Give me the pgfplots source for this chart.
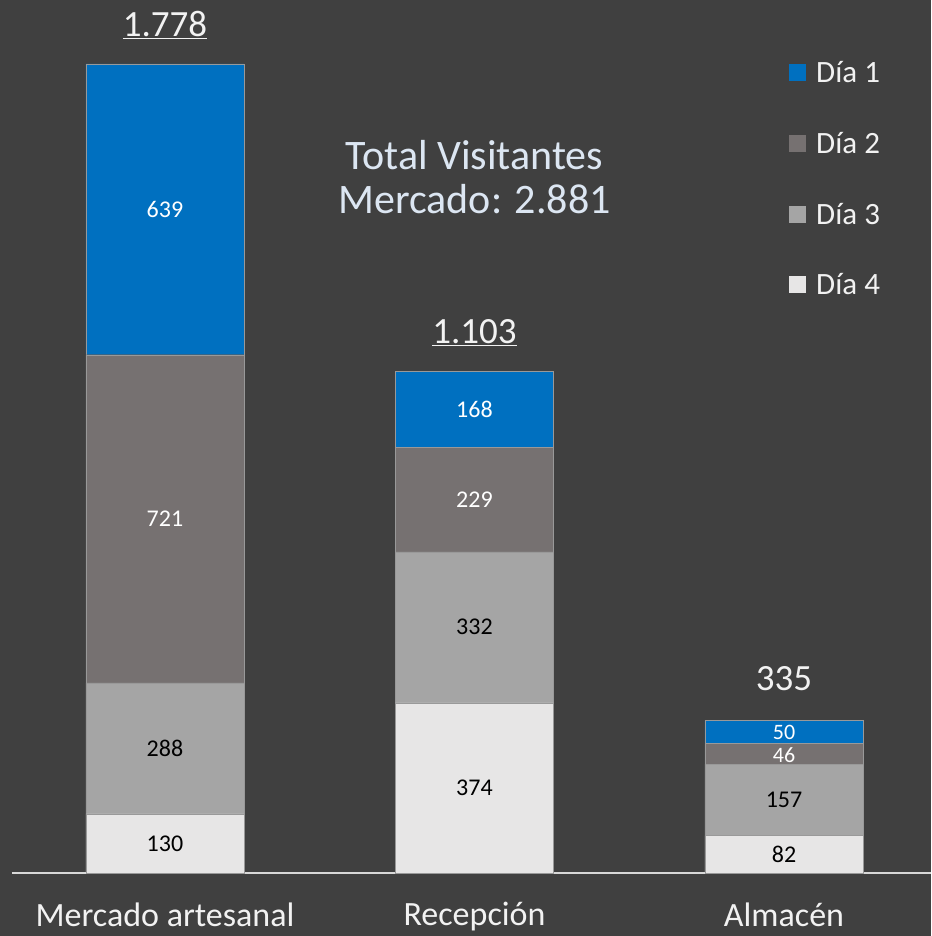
\documentclass[border=0pt]{standalone}
\usepackage{pgfplots}
\pgfplotsset{compat=1.18}
\usepackage{fontspec}
\setmainfont{Carlito}

\definecolor{bg}{HTML}{404040}
\definecolor{dia1}{HTML}{0070C0}
\definecolor{dia2}{HTML}{767171}
\definecolor{dia3}{HTML}{A5A5A5}
\definecolor{dia4}{HTML}{E7E6E6}
\definecolor{txt}{HTML}{F2F2F2}
\definecolor{ttl}{HTML}{DCE6F2}

\begin{document}
\begin{tikzpicture}
\fill[bg] (0pt,0pt) rectangle (931pt,936pt);
\path[use as bounding box] (0pt,0pt) rectangle (931pt,936pt);
\begin{axis}[
    at={(12pt,63pt)}, anchor=south west,
    scale only axis,
    width=919pt, height=873pt,
    xmin=-0.4943, xmax=2.475,
    ymin=0, ymax=1918.6,
    ybar stacked,
    bar width=158pt,
    axis x line*=bottom,
    hide y axis,
    x axis line style={-, draw=white!85!black, line width=2pt},
    xtick={0,1,2},
    xticklabels={Mercado artesanal, Recepción, Almacén},
    major tick length=0pt,
    xticklabel style={font=\fontsize{34}{40}\selectfont, text=txt, yshift=-26pt},
    clip=false,
    legend cell align=left,
    legend style={draw=none, fill=none, text=txt,
        font=\fontsize{31}{37}\selectfont,
        at={(rel axis cs:0.8455,0.932)}, anchor=north west,
        row sep=44pt, inner sep=0pt,
        /tikz/every odd column/.append style={column sep=8pt}},
    legend image code/.code={\path[#1,draw=none] (0pt,-8.5pt) rectangle (17pt,8.5pt);},
]
\addlegendimage{fill=dia1}
\addlegendentry{Día 1}
\addlegendimage{fill=dia2}
\addlegendentry{Día 2}
\addlegendimage{fill=dia3}
\addlegendentry{Día 3}
\addlegendimage{fill=dia4}
\addlegendentry{Día 4}

\addplot[fill=dia4, draw=black!40, forget plot] coordinates {(0,130) (1,374) (2,82)};
\addplot[fill=dia3, draw=black!40, forget plot] coordinates {(0,288) (1,332) (2,157)};
\addplot[fill=dia2, draw=black!40, forget plot] coordinates {(0,721) (1,229) (2,46)};
\addplot[fill=dia1, draw=black!40, forget plot] coordinates {(0,639) (1,168) (2,50)};

% label anchors (segment middles, bar tops)
\coordinate (a4) at (axis cs:0,65);
\coordinate (a3) at (axis cs:0,274);
\coordinate (a2) at (axis cs:0,778.5);
\coordinate (a1) at (axis cs:0,1458.5);
\coordinate (b4) at (axis cs:1,187);
\coordinate (b3) at (axis cs:1,540);
\coordinate (b2) at (axis cs:1,820.5);
\coordinate (b1) at (axis cs:1,1019);
\coordinate (c4) at (axis cs:2,41);
\coordinate (c3) at (axis cs:2,160.5);
\coordinate (c2) at (axis cs:2,258);
\coordinate (c1) at (axis cs:2,308);
\coordinate (ta) at (axis cs:0,1778);
\coordinate (tb) at (axis cs:1,1103);
\coordinate (tc) at (axis cs:2,335);
\coordinate (ttl) at (axis cs:1,1530);
\end{axis}

\begin{scope}[font=\fontsize{24}{28}\selectfont]
\node[text=black] at (a4) {130};
\node[text=black] at (a3) {288};
\node[text=white] at (a2) {721};
\node[text=white] at (a1) {639};
\node[text=black] at (b4) {374};
\node[text=black] at (b3) {332};
\node[text=white] at (b2) {229};
\node[text=white] at (b1) {168};
\node[text=black] at (c4) {82};
\node[text=black] at (c3) {157};
\node[text=white, font=\fontsize{22}{24}\selectfont, inner sep=0pt] at (c2) {46};
\node[text=white, font=\fontsize{22}{24}\selectfont, inner sep=0pt] at (c1) {50};
\end{scope}

\node[anchor=south, text=txt, font=\fontsize{37}{42}\selectfont, yshift=22pt] at (ta) {\underline{1.778}};
\node[anchor=south, text=txt, font=\fontsize{37}{42}\selectfont, yshift=22pt] at (tb) {\underline{1.103}};
\node[anchor=south, text=txt, font=\fontsize{37}{42}\selectfont, yshift=26pt] at (tc) {335};

\node[align=center, text=ttl, font=\fontsize{42}{44}\selectfont] at (ttl) {Total Visitantes\\Mercado: 2.881};
\end{tikzpicture}
\end{document}
